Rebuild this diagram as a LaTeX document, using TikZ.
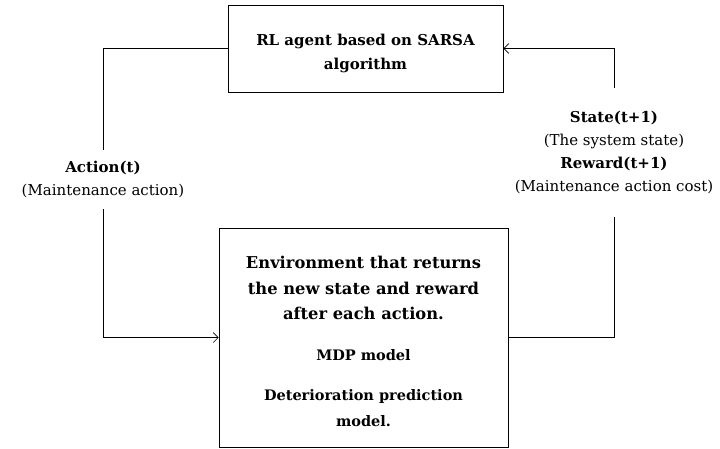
\documentclass[tikz,border=0pt]{standalone}
\usepackage{fontspec}
\setmainfont{DejaVu Serif}
\usetikzlibrary{arrows.meta}
\newcommand\envsub{\fontsize{14.5}{23}\selectfont}
\newcommand\topstrut[1]{\rule{0pt}{#1}}
\begin{document}
\begin{tikzpicture}[x=1pt,y=-1pt,
  box/.style={draw,thick,align=center,inner sep=0pt},
  lbl/.style={align=center,inner sep=0pt,font=\fontsize{15}{23}\selectfont},
  link/.style={-{Straight Barb[length=5pt,width=10pt]},semithick}]
\useasboundingbox (0,0) rectangle (720,448);
\node[box,minimum width=275pt,minimum height=87pt,font=\bfseries\fontsize{15}{24}\selectfont] (agent) at (365.5,48.5) {\topstrut{21.5pt}RL agent based on SARSA\\algorithm};
\node[box,minimum width=289pt,minimum height=219pt,font=\bfseries\fontsize{16.3}{25.5}\selectfont] (env) at (363.5,337.5) {\topstrut{20.5pt}Environment that returns\\the new state and reward\\after each action.\\[15pt]\envsub MDP model\\[15pt]\envsub Deterioration prediction\\\envsub model.};
\node[lbl,minimum height=59pt] (act) at (103,179.5) {\textbf{Action(t)}\\(Maintenance action)};
\node[lbl,minimum height=129pt] (obs) at (614,152.5) {\textbf{State(t+1)}\\(The system state)\\\textbf{Reward(t+1)}\\(Maintenance action cost)};
\draw[semithick] (agent.west) -| (act.north);
\draw[link] (act.south) |- (env.west);
\draw[semithick] (env.east) -| (obs.south);
\draw[link] (obs.north) |- (agent.east);
\end{tikzpicture}
\end{document}
